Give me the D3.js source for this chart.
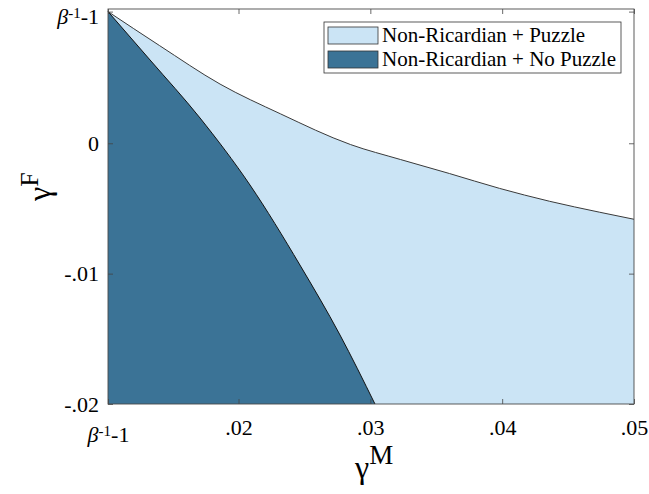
<!DOCTYPE html>
<html>
<head>
<meta charset="utf-8">
<script src="https://cdn.jsdelivr.net/npm/d3@7"></script>
<style>
  html, body { margin: 0; padding: 0; background: #fff; }
  svg { display: block; }
  text { font-family: "Liberation Serif", "Times New Roman", Times, "DejaVu Serif", serif; fill: #000; }
</style>
</head>
<body>
<svg id="chart" width="649" height="494"></svg>
<script>
// ---- Data ----
const betaInvMinus1 = 0.0101;
const xDomain = [betaInvMinus1, 0.05];
const yDomain = [-0.02, 0.0103];
const xTicks = [betaInvMinus1, 0.02, 0.03, 0.04, 0.05];
const xTickLabels = ["BETA", ".02", ".03", ".04", ".05"];
const yTicks = [betaInvMinus1, 0, -0.01, -0.02];
const yTickLabels = ["BETA", "0", "-.01", "-.02"];

// Upper boundary (Non-Ricardian + Puzzle)
const puzzleGammaM = [0.0101, 0.0140, 0.0186, 0.0232, 0.0285, 0.0323, 0.0360, 0.0398, 0.0436, 0.0474, 0.0500];
const puzzleGammaF = [0.0101, 0.0075, 0.00454, 0.00225, -0.0001, -0.00125, -0.00232, -0.00346, -0.00445, -0.00529, -0.00583];

// Boundary of Non-Ricardian + No Puzzle region
const noPuzzleGammaM = [0.0101, 0.01329, 0.01708, 0.02087, 0.02466, 0.0277, 0.03035];
const noPuzzleGammaF = [0.0101, 0.00639, 0.00194, -0.0032, -0.00934, -0.01471, -0.0200];

const legendLabels = ["Non-Ricardian + Puzzle", "Non-Ricardian + No Puzzle"];
const colors = ["#cbe4f5", "#3b7396"];

// ---- Layout ----
const svg = d3.select("#chart");
const pL = 108, pR = 634, pT = 9, pB = 404;
const x = d3.scaleLinear().domain(xDomain).range([pL, pR]);
const y = d3.scaleLinear().domain(yDomain).range([pB, pT]);

const upper = puzzleGammaM.map((m, i) => [m, puzzleGammaF[i]]);
const lower = noPuzzleGammaM.map((m, i) => [m, noPuzzleGammaF[i]]);

const area = d3.area().x(d => x(d[0])).y0(y(yDomain[0])).y1(d => y(d[1])).curve(d3.curveMonotoneX);
svg.append("path").datum(upper).attr("d", area).attr("fill", colors[0]);
svg.append("path").datum(lower).attr("d", area).attr("fill", colors[1]);

const line = d3.line().x(d => x(d[0])).y(d => y(d[1])).curve(d3.curveMonotoneX);
svg.append("path").datum(upper).attr("d", line).attr("fill", "none").attr("stroke", "#3a3a3a").attr("stroke-width", 1);
svg.append("path").datum(lower).attr("d", line).attr("fill", "none").attr("stroke", "#111").attr("stroke-width", 1);

// ---- Axes ----
function fmt(labels, ticks) { return (d) => labels[ticks.indexOf(d)]; }

const gx = svg.append("g").attr("transform", `translate(0,${pB})`)
  .call(d3.axisBottom(x).tickValues(xTicks).tickFormat(fmt(xTickLabels, xTicks)).tickSizeInner(-5).tickSizeOuter(0).tickPadding(15));
const gy = svg.append("g").attr("transform", `translate(${pL},0)`)
  .call(d3.axisLeft(y).tickValues(yTicks).tickFormat(fmt(yTickLabels, yTicks)).tickSizeInner(-5).tickSizeOuter(0).tickPadding(9));
const gxt = svg.append("g").attr("transform", `translate(0,${pT})`)
  .call(d3.axisTop(x).tickValues(xTicks).tickFormat("").tickSizeInner(-5).tickSizeOuter(0));
const gyr = svg.append("g").attr("transform", `translate(${pR},0)`)
  .call(d3.axisRight(y).tickValues(yTicks).tickFormat("").tickSizeInner(-5).tickSizeOuter(0));

[gx, gy, gxt, gyr].forEach(g => {
  g.select(".domain").remove();
  g.selectAll(".tick line").attr("stroke", "#444").attr("stroke-width", 0.8);
  g.attr("font-family", null);
  g.selectAll("text").attr("font-size", 22).attr("fill", "#000");
});

function betaLabel(sel, dy) {
  sel.each(function() {
    const t = d3.select(this);
    if (t.text() !== "BETA") return;
    t.text(null).attr("dy", dy);
    t.append("tspan").attr("font-style", "italic").text("β");
    t.append("tspan").attr("font-size", 15).attr("dy", "-0.42em").text("-1");
    t.append("tspan").attr("dy", "0.29em").text("-1");
  });
}
gx.selectAll(".tick text").call(betaLabel, "1.05em");
gy.selectAll(".tick text").call(betaLabel, "0.55em");

// Box
svg.append("rect").attr("x", pL).attr("y", pT).attr("width", pR - pL).attr("height", pB - pT)
  .attr("fill", "none").attr("stroke", "#4a4a4a").attr("stroke-width", 0.9);

// Axis labels
const xl = svg.append("text").attr("x", 355).attr("y", 478).attr("font-size", 32);
xl.append("tspan").text("γ");
xl.append("tspan").attr("font-size", 27).attr("dy", -14).text("M");

const yl = svg.append("text").attr("transform", "translate(50,201) rotate(-90)").attr("font-size", 32);
yl.append("tspan").text("γ");
yl.append("tspan").attr("font-size", 26).attr("dy", -12).text("F");

// Legend
const lg = svg.append("g");
lg.append("rect").attr("x", 324).attr("y", 22).attr("width", 297).attr("height", 51)
  .attr("fill", "#fff").attr("stroke", "#333").attr("stroke-width", 0.8);
legendLabels.forEach((lab, i) => {
  const yy = 27 + i * 24;
  lg.append("rect").attr("x", 328).attr("y", yy).attr("width", 50).attr("height", 17)
    .attr("fill", colors[i]).attr("stroke", "#333").attr("stroke-width", 0.8);
  lg.append("text").attr("x", 382).attr("y", yy + 15).attr("font-size", 21).text(lab);
});
</script>
</body>
</html>
